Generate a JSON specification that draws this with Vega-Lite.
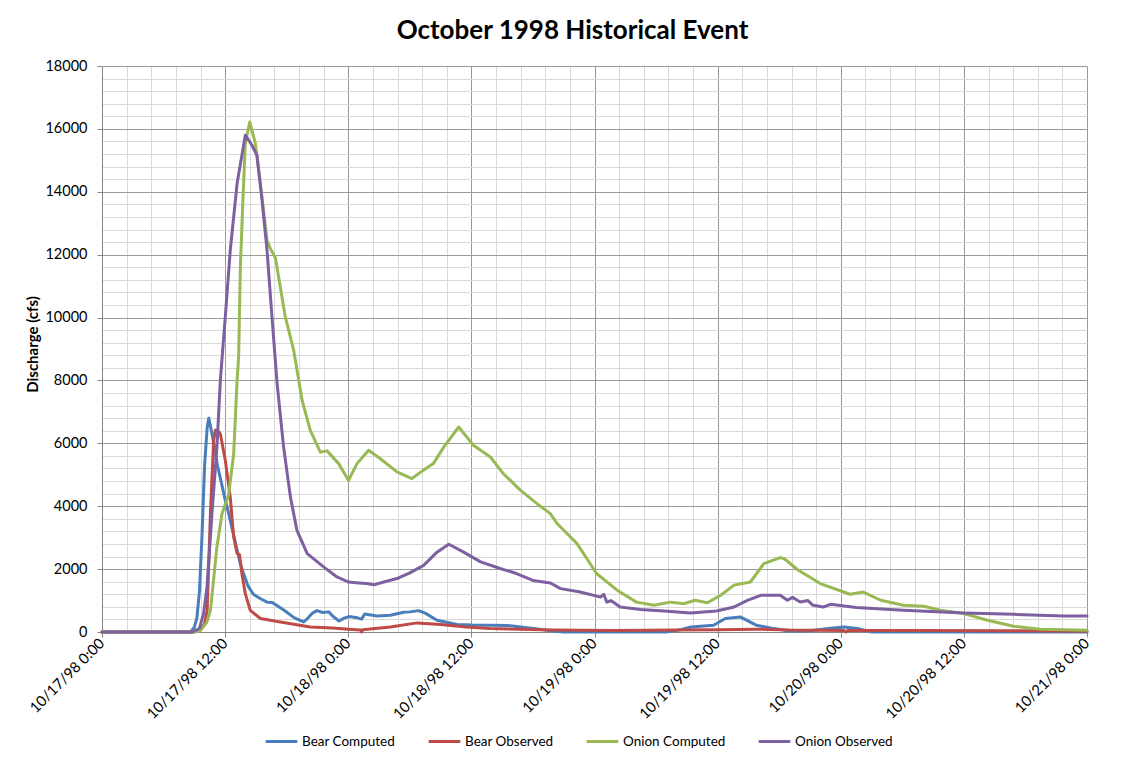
{
  "$schema": "https://vega.github.io/schema/vega-lite/v6.json",
  "autosize": {"type": "none"},
  "padding": {"left": 102, "top": 66, "right": 45, "bottom": 137},
  "width": 985,
  "height": 566,
  "background": "white",
  "config": {"view": {"stroke": null}},
  "title": {"text": "October 1998 Historical Event", "font": "Lato", "fontSize": 26, "fontWeight": "bold", "color": "#000000", "anchor": "middle", "baseline": "alphabetic", "offset": 21, "dx": -22, "dy": 28},
  "data": {"values": [
    {"series": "Bear Computed", "time": "1998-10-17T00:00", "cfs": 0},
    {"series": "Bear Computed", "time": "1998-10-17T08:30", "cfs": 0},
    {"series": "Bear Computed", "time": "1998-10-17T08:45", "cfs": 50},
    {"series": "Bear Computed", "time": "1998-10-17T09:00", "cfs": 150},
    {"series": "Bear Computed", "time": "1998-10-17T09:15", "cfs": 450},
    {"series": "Bear Computed", "time": "1998-10-17T09:30", "cfs": 1300},
    {"series": "Bear Computed", "time": "1998-10-17T09:45", "cfs": 3100},
    {"series": "Bear Computed", "time": "1998-10-17T10:00", "cfs": 5300},
    {"series": "Bear Computed", "time": "1998-10-17T10:15", "cfs": 6500},
    {"series": "Bear Computed", "time": "1998-10-17T10:24", "cfs": 6800},
    {"series": "Bear Computed", "time": "1998-10-17T10:36", "cfs": 6500},
    {"series": "Bear Computed", "time": "1998-10-17T10:54", "cfs": 6000},
    {"series": "Bear Computed", "time": "1998-10-17T11:15", "cfs": 5300},
    {"series": "Bear Computed", "time": "1998-10-17T11:36", "cfs": 4800},
    {"series": "Bear Computed", "time": "1998-10-17T12:00", "cfs": 4200},
    {"series": "Bear Computed", "time": "1998-10-17T12:15", "cfs": 3900},
    {"series": "Bear Computed", "time": "1998-10-17T12:45", "cfs": 3200},
    {"series": "Bear Computed", "time": "1998-10-17T13:06", "cfs": 2700},
    {"series": "Bear Computed", "time": "1998-10-17T13:30", "cfs": 2150},
    {"series": "Bear Computed", "time": "1998-10-17T13:45", "cfs": 1900},
    {"series": "Bear Computed", "time": "1998-10-17T14:15", "cfs": 1450},
    {"series": "Bear Computed", "time": "1998-10-17T14:45", "cfs": 1200},
    {"series": "Bear Computed", "time": "1998-10-17T15:30", "cfs": 1050},
    {"series": "Bear Computed", "time": "1998-10-17T16:06", "cfs": 950},
    {"series": "Bear Computed", "time": "1998-10-17T16:36", "cfs": 940},
    {"series": "Bear Computed", "time": "1998-10-17T17:45", "cfs": 690},
    {"series": "Bear Computed", "time": "1998-10-17T18:45", "cfs": 450},
    {"series": "Bear Computed", "time": "1998-10-17T19:39", "cfs": 320},
    {"series": "Bear Computed", "time": "1998-10-17T20:00", "cfs": 420},
    {"series": "Bear Computed", "time": "1998-10-17T20:30", "cfs": 600},
    {"series": "Bear Computed", "time": "1998-10-17T20:57", "cfs": 680},
    {"series": "Bear Computed", "time": "1998-10-17T21:30", "cfs": 620},
    {"series": "Bear Computed", "time": "1998-10-17T22:06", "cfs": 640},
    {"series": "Bear Computed", "time": "1998-10-17T22:30", "cfs": 500},
    {"series": "Bear Computed", "time": "1998-10-17T23:06", "cfs": 350},
    {"series": "Bear Computed", "time": "1998-10-17T23:36", "cfs": 440},
    {"series": "Bear Computed", "time": "1998-10-18T00:03", "cfs": 490},
    {"series": "Bear Computed", "time": "1998-10-18T00:54", "cfs": 450},
    {"series": "Bear Computed", "time": "1998-10-18T01:18", "cfs": 410},
    {"series": "Bear Computed", "time": "1998-10-18T01:36", "cfs": 570},
    {"series": "Bear Computed", "time": "1998-10-18T02:48", "cfs": 510},
    {"series": "Bear Computed", "time": "1998-10-18T04:06", "cfs": 530},
    {"series": "Bear Computed", "time": "1998-10-18T05:24", "cfs": 630},
    {"series": "Bear Computed", "time": "1998-10-18T06:00", "cfs": 640},
    {"series": "Bear Computed", "time": "1998-10-18T06:51", "cfs": 680},
    {"series": "Bear Computed", "time": "1998-10-18T07:30", "cfs": 600},
    {"series": "Bear Computed", "time": "1998-10-18T08:39", "cfs": 372},
    {"series": "Bear Computed", "time": "1998-10-18T10:36", "cfs": 240},
    {"series": "Bear Computed", "time": "1998-10-18T12:00", "cfs": 220},
    {"series": "Bear Computed", "time": "1998-10-18T13:51", "cfs": 213},
    {"series": "Bear Computed", "time": "1998-10-18T15:30", "cfs": 210},
    {"series": "Bear Computed", "time": "1998-10-18T17:00", "cfs": 150},
    {"series": "Bear Computed", "time": "1998-10-18T18:06", "cfs": 108},
    {"series": "Bear Computed", "time": "1998-10-18T19:42", "cfs": 40},
    {"series": "Bear Computed", "time": "1998-10-18T21:00", "cfs": 0},
    {"series": "Bear Computed", "time": "1998-10-19T07:00", "cfs": 0},
    {"series": "Bear Computed", "time": "1998-10-19T08:30", "cfs": 80},
    {"series": "Bear Computed", "time": "1998-10-19T09:24", "cfs": 160},
    {"series": "Bear Computed", "time": "1998-10-19T11:36", "cfs": 213},
    {"series": "Bear Computed", "time": "1998-10-19T12:45", "cfs": 430},
    {"series": "Bear Computed", "time": "1998-10-19T14:12", "cfs": 480},
    {"series": "Bear Computed", "time": "1998-10-19T15:48", "cfs": 213},
    {"series": "Bear Computed", "time": "1998-10-19T17:30", "cfs": 108},
    {"series": "Bear Computed", "time": "1998-10-19T19:00", "cfs": 30},
    {"series": "Bear Computed", "time": "1998-10-19T21:00", "cfs": 40},
    {"series": "Bear Computed", "time": "1998-10-19T23:00", "cfs": 120},
    {"series": "Bear Computed", "time": "1998-10-20T00:18", "cfs": 160},
    {"series": "Bear Computed", "time": "1998-10-20T01:48", "cfs": 100},
    {"series": "Bear Computed", "time": "1998-10-20T03:00", "cfs": 0},
    {"series": "Bear Computed", "time": "1998-10-21T00:00", "cfs": 0},

    {"series": "Bear Observed", "time": "1998-10-17T00:00", "cfs": 0},
    {"series": "Bear Observed", "time": "1998-10-17T09:00", "cfs": 0},
    {"series": "Bear Observed", "time": "1998-10-17T09:30", "cfs": 60},
    {"series": "Bear Observed", "time": "1998-10-17T10:00", "cfs": 250},
    {"series": "Bear Observed", "time": "1998-10-17T10:15", "cfs": 700},
    {"series": "Bear Observed", "time": "1998-10-17T10:34", "cfs": 3765},
    {"series": "Bear Observed", "time": "1998-10-17T10:53", "cfs": 6100},
    {"series": "Bear Observed", "time": "1998-10-17T11:03", "cfs": 6420},
    {"series": "Bear Observed", "time": "1998-10-17T11:18", "cfs": 6400},
    {"series": "Bear Observed", "time": "1998-10-17T11:32", "cfs": 6300},
    {"series": "Bear Observed", "time": "1998-10-17T12:01", "cfs": 5460},
    {"series": "Bear Observed", "time": "1998-10-17T12:30", "cfs": 4290},
    {"series": "Bear Observed", "time": "1998-10-17T12:50", "cfs": 3020},
    {"series": "Bear Observed", "time": "1998-10-17T13:10", "cfs": 2500},
    {"series": "Bear Observed", "time": "1998-10-17T13:24", "cfs": 2460},
    {"series": "Bear Observed", "time": "1998-10-17T13:38", "cfs": 1860},
    {"series": "Bear Observed", "time": "1998-10-17T13:58", "cfs": 1220},
    {"series": "Bear Observed", "time": "1998-10-17T14:27", "cfs": 690},
    {"series": "Bear Observed", "time": "1998-10-17T15:26", "cfs": 430},
    {"series": "Bear Observed", "time": "1998-10-17T17:23", "cfs": 320},
    {"series": "Bear Observed", "time": "1998-10-17T20:18", "cfs": 160},
    {"series": "Bear Observed", "time": "1998-10-17T22:30", "cfs": 130},
    {"series": "Bear Observed", "time": "1998-10-18T00:00", "cfs": 90},
    {"series": "Bear Observed", "time": "1998-10-18T01:12", "cfs": 60},
    {"series": "Bear Observed", "time": "1998-10-18T01:18", "cfs": 0},
    {"series": "Bear Observed", "time": "1998-10-18T01:24", "cfs": 70},
    {"series": "Bear Observed", "time": "1998-10-18T04:06", "cfs": 160},
    {"series": "Bear Observed", "time": "1998-10-18T06:42", "cfs": 290},
    {"series": "Bear Observed", "time": "1998-10-18T09:00", "cfs": 235},
    {"series": "Bear Observed", "time": "1998-10-18T11:30", "cfs": 160},
    {"series": "Bear Observed", "time": "1998-10-18T13:48", "cfs": 110},
    {"series": "Bear Observed", "time": "1998-10-18T20:00", "cfs": 60},
    {"series": "Bear Observed", "time": "1998-10-19T02:00", "cfs": 50},
    {"series": "Bear Observed", "time": "1998-10-19T08:00", "cfs": 60},
    {"series": "Bear Observed", "time": "1998-10-19T12:00", "cfs": 70},
    {"series": "Bear Observed", "time": "1998-10-19T16:00", "cfs": 90},
    {"series": "Bear Observed", "time": "1998-10-19T19:00", "cfs": 60},
    {"series": "Bear Observed", "time": "1998-10-20T00:18", "cfs": 50},
    {"series": "Bear Observed", "time": "1998-10-20T00:30", "cfs": 0},
    {"series": "Bear Observed", "time": "1998-10-20T00:42", "cfs": 50},
    {"series": "Bear Observed", "time": "1998-10-20T08:00", "cfs": 50},
    {"series": "Bear Observed", "time": "1998-10-20T16:00", "cfs": 40},
    {"series": "Bear Observed", "time": "1998-10-21T00:00", "cfs": 20},

    {"series": "Onion Computed", "time": "1998-10-17T00:00", "cfs": 0},
    {"series": "Onion Computed", "time": "1998-10-17T09:00", "cfs": 0},
    {"series": "Onion Computed", "time": "1998-10-17T09:36", "cfs": 50},
    {"series": "Onion Computed", "time": "1998-10-17T10:12", "cfs": 300},
    {"series": "Onion Computed", "time": "1998-10-17T10:34", "cfs": 690},
    {"series": "Onion Computed", "time": "1998-10-17T11:12", "cfs": 2700},
    {"series": "Onion Computed", "time": "1998-10-17T11:42", "cfs": 3770},
    {"series": "Onion Computed", "time": "1998-10-17T12:20", "cfs": 4350},
    {"series": "Onion Computed", "time": "1998-10-17T12:50", "cfs": 5670},
    {"series": "Onion Computed", "time": "1998-10-17T13:10", "cfs": 8000},
    {"series": "Onion Computed", "time": "1998-10-17T13:19", "cfs": 8750},
    {"series": "Onion Computed", "time": "1998-10-17T13:29", "cfs": 11600},
    {"series": "Onion Computed", "time": "1998-10-17T13:44", "cfs": 13730},
    {"series": "Onion Computed", "time": "1998-10-17T13:58", "cfs": 15530},
    {"series": "Onion Computed", "time": "1998-10-17T14:24", "cfs": 16220},
    {"series": "Onion Computed", "time": "1998-10-17T14:57", "cfs": 15530},
    {"series": "Onion Computed", "time": "1998-10-17T15:26", "cfs": 14260},
    {"series": "Onion Computed", "time": "1998-10-17T16:05", "cfs": 12460},
    {"series": "Onion Computed", "time": "1998-10-17T16:24", "cfs": 12200},
    {"series": "Onion Computed", "time": "1998-10-17T16:54", "cfs": 11900},
    {"series": "Onion Computed", "time": "1998-10-17T17:52", "cfs": 10020},
    {"series": "Onion Computed", "time": "1998-10-17T18:41", "cfs": 8960},
    {"series": "Onion Computed", "time": "1998-10-17T19:30", "cfs": 7370},
    {"series": "Onion Computed", "time": "1998-10-17T20:18", "cfs": 6410},
    {"series": "Onion Computed", "time": "1998-10-17T21:17", "cfs": 5720},
    {"series": "Onion Computed", "time": "1998-10-17T21:56", "cfs": 5760},
    {"series": "Onion Computed", "time": "1998-10-17T23:04", "cfs": 5355},
    {"series": "Onion Computed", "time": "1998-10-18T00:02", "cfs": 4820},
    {"series": "Onion Computed", "time": "1998-10-18T00:51", "cfs": 5355},
    {"series": "Onion Computed", "time": "1998-10-18T01:59", "cfs": 5780},
    {"series": "Onion Computed", "time": "1998-10-18T03:08", "cfs": 5510},
    {"series": "Onion Computed", "time": "1998-10-18T04:45", "cfs": 5090},
    {"series": "Onion Computed", "time": "1998-10-18T06:12", "cfs": 4880},
    {"series": "Onion Computed", "time": "1998-10-18T07:18", "cfs": 5140},
    {"series": "Onion Computed", "time": "1998-10-18T08:18", "cfs": 5355},
    {"series": "Onion Computed", "time": "1998-10-18T09:18", "cfs": 5880},
    {"series": "Onion Computed", "time": "1998-10-18T10:46", "cfs": 6520},
    {"series": "Onion Computed", "time": "1998-10-18T12:12", "cfs": 5940},
    {"series": "Onion Computed", "time": "1998-10-18T13:51", "cfs": 5565},
    {"series": "Onion Computed", "time": "1998-10-18T15:06", "cfs": 5040},
    {"series": "Onion Computed", "time": "1998-10-18T16:46", "cfs": 4510},
    {"series": "Onion Computed", "time": "1998-10-18T18:24", "cfs": 4080},
    {"series": "Onion Computed", "time": "1998-10-18T19:42", "cfs": 3765},
    {"series": "Onion Computed", "time": "1998-10-18T20:21", "cfs": 3450},
    {"series": "Onion Computed", "time": "1998-10-18T22:18", "cfs": 2810},
    {"series": "Onion Computed", "time": "1998-10-19T00:12", "cfs": 1860},
    {"series": "Onion Computed", "time": "1998-10-19T02:12", "cfs": 1330},
    {"series": "Onion Computed", "time": "1998-10-19T04:06", "cfs": 950},
    {"series": "Onion Computed", "time": "1998-10-19T05:48", "cfs": 850},
    {"series": "Onion Computed", "time": "1998-10-19T07:24", "cfs": 950},
    {"series": "Onion Computed", "time": "1998-10-19T08:42", "cfs": 900},
    {"series": "Onion Computed", "time": "1998-10-19T09:48", "cfs": 1010},
    {"series": "Onion Computed", "time": "1998-10-19T11:00", "cfs": 930},
    {"series": "Onion Computed", "time": "1998-10-19T12:18", "cfs": 1170},
    {"series": "Onion Computed", "time": "1998-10-19T13:36", "cfs": 1490},
    {"series": "Onion Computed", "time": "1998-10-19T15:12", "cfs": 1590},
    {"series": "Onion Computed", "time": "1998-10-19T16:30", "cfs": 2175},
    {"series": "Onion Computed", "time": "1998-10-19T18:06", "cfs": 2366},
    {"series": "Onion Computed", "time": "1998-10-19T18:30", "cfs": 2330},
    {"series": "Onion Computed", "time": "1998-10-19T19:48", "cfs": 1980},
    {"series": "Onion Computed", "time": "1998-10-19T22:00", "cfs": 1540},
    {"series": "Onion Computed", "time": "1998-10-20T00:54", "cfs": 1200},
    {"series": "Onion Computed", "time": "1998-10-20T02:12", "cfs": 1270},
    {"series": "Onion Computed", "time": "1998-10-20T03:54", "cfs": 1010},
    {"series": "Onion Computed", "time": "1998-10-20T06:06", "cfs": 850},
    {"series": "Onion Computed", "time": "1998-10-20T08:06", "cfs": 820},
    {"series": "Onion Computed", "time": "1998-10-20T09:42", "cfs": 690},
    {"series": "Onion Computed", "time": "1998-10-20T12:00", "cfs": 585},
    {"series": "Onion Computed", "time": "1998-10-20T14:18", "cfs": 372},
    {"series": "Onion Computed", "time": "1998-10-20T16:51", "cfs": 181},
    {"series": "Onion Computed", "time": "1998-10-20T19:27", "cfs": 86},
    {"series": "Onion Computed", "time": "1998-10-21T00:00", "cfs": 54},

    {"series": "Onion Observed", "time": "1998-10-17T00:00", "cfs": 0},
    {"series": "Onion Observed", "time": "1998-10-17T08:48", "cfs": 0},
    {"series": "Onion Observed", "time": "1998-10-17T09:30", "cfs": 120},
    {"series": "Onion Observed", "time": "1998-10-17T09:54", "cfs": 585},
    {"series": "Onion Observed", "time": "1998-10-17T10:14", "cfs": 1430},
    {"series": "Onion Observed", "time": "1998-10-17T10:43", "cfs": 3765},
    {"series": "Onion Observed", "time": "1998-10-17T11:12", "cfs": 5880},
    {"series": "Onion Observed", "time": "1998-10-17T11:32", "cfs": 8000},
    {"series": "Onion Observed", "time": "1998-10-17T12:01", "cfs": 10020},
    {"series": "Onion Observed", "time": "1998-10-17T12:30", "cfs": 12140},
    {"series": "Onion Observed", "time": "1998-10-17T13:10", "cfs": 14260},
    {"series": "Onion Observed", "time": "1998-10-17T13:58", "cfs": 15800},
    {"series": "Onion Observed", "time": "1998-10-17T14:37", "cfs": 15480},
    {"series": "Onion Observed", "time": "1998-10-17T15:06", "cfs": 15160},
    {"series": "Onion Observed", "time": "1998-10-17T15:36", "cfs": 13730},
    {"series": "Onion Observed", "time": "1998-10-17T16:05", "cfs": 12140},
    {"series": "Onion Observed", "time": "1998-10-17T16:34", "cfs": 10020},
    {"series": "Onion Observed", "time": "1998-10-17T17:04", "cfs": 7900},
    {"series": "Onion Observed", "time": "1998-10-17T17:42", "cfs": 5880},
    {"series": "Onion Observed", "time": "1998-10-17T18:22", "cfs": 4290},
    {"series": "Onion Observed", "time": "1998-10-17T19:00", "cfs": 3230},
    {"series": "Onion Observed", "time": "1998-10-17T20:00", "cfs": 2490},
    {"series": "Onion Observed", "time": "1998-10-17T21:36", "cfs": 2070},
    {"series": "Onion Observed", "time": "1998-10-17T22:54", "cfs": 1750},
    {"series": "Onion Observed", "time": "1998-10-18T00:02", "cfs": 1590},
    {"series": "Onion Observed", "time": "1998-10-18T01:00", "cfs": 1560},
    {"series": "Onion Observed", "time": "1998-10-18T01:48", "cfs": 1540},
    {"series": "Onion Observed", "time": "1998-10-18T02:30", "cfs": 1500},
    {"series": "Onion Observed", "time": "1998-10-18T03:27", "cfs": 1590},
    {"series": "Onion Observed", "time": "1998-10-18T04:45", "cfs": 1700},
    {"series": "Onion Observed", "time": "1998-10-18T06:00", "cfs": 1880},
    {"series": "Onion Observed", "time": "1998-10-18T07:21", "cfs": 2120},
    {"series": "Onion Observed", "time": "1998-10-18T08:39", "cfs": 2540},
    {"series": "Onion Observed", "time": "1998-10-18T09:48", "cfs": 2790},
    {"series": "Onion Observed", "time": "1998-10-18T11:15", "cfs": 2540},
    {"series": "Onion Observed", "time": "1998-10-18T12:54", "cfs": 2230},
    {"series": "Onion Observed", "time": "1998-10-18T14:48", "cfs": 2020},
    {"series": "Onion Observed", "time": "1998-10-18T16:24", "cfs": 1860},
    {"series": "Onion Observed", "time": "1998-10-18T18:00", "cfs": 1640},
    {"series": "Onion Observed", "time": "1998-10-18T19:42", "cfs": 1560},
    {"series": "Onion Observed", "time": "1998-10-18T20:42", "cfs": 1380},
    {"series": "Onion Observed", "time": "1998-10-18T22:36", "cfs": 1270},
    {"series": "Onion Observed", "time": "1998-10-19T00:36", "cfs": 1110},
    {"series": "Onion Observed", "time": "1998-10-19T00:54", "cfs": 1200},
    {"series": "Onion Observed", "time": "1998-10-19T01:12", "cfs": 950},
    {"series": "Onion Observed", "time": "1998-10-19T01:36", "cfs": 1000},
    {"series": "Onion Observed", "time": "1998-10-19T02:30", "cfs": 795},
    {"series": "Onion Observed", "time": "1998-10-19T04:30", "cfs": 712},
    {"series": "Onion Observed", "time": "1998-10-19T07:06", "cfs": 658},
    {"series": "Onion Observed", "time": "1998-10-19T09:21", "cfs": 604},
    {"series": "Onion Observed", "time": "1998-10-19T11:54", "cfs": 668},
    {"series": "Onion Observed", "time": "1998-10-19T13:36", "cfs": 795},
    {"series": "Onion Observed", "time": "1998-10-19T14:54", "cfs": 1008},
    {"series": "Onion Observed", "time": "1998-10-19T16:12", "cfs": 1167},
    {"series": "Onion Observed", "time": "1998-10-19T18:06", "cfs": 1167},
    {"series": "Onion Observed", "time": "1998-10-19T18:48", "cfs": 1008},
    {"series": "Onion Observed", "time": "1998-10-19T19:18", "cfs": 1100},
    {"series": "Onion Observed", "time": "1998-10-19T20:03", "cfs": 954},
    {"series": "Onion Observed", "time": "1998-10-19T20:48", "cfs": 1000},
    {"series": "Onion Observed", "time": "1998-10-19T21:18", "cfs": 850},
    {"series": "Onion Observed", "time": "1998-10-19T22:18", "cfs": 795},
    {"series": "Onion Observed", "time": "1998-10-19T23:00", "cfs": 880},
    {"series": "Onion Observed", "time": "1998-10-20T01:30", "cfs": 776},
    {"series": "Onion Observed", "time": "1998-10-20T06:06", "cfs": 690},
    {"series": "Onion Observed", "time": "1998-10-20T12:00", "cfs": 604},
    {"series": "Onion Observed", "time": "1998-10-20T16:51", "cfs": 563},
    {"series": "Onion Observed", "time": "1998-10-20T21:42", "cfs": 509},
    {"series": "Onion Observed", "time": "1998-10-21T00:00", "cfs": 509}
  ]},
  "mark": {"type": "line", "strokeWidth": 3, "strokeJoin": "round", "strokeCap": "round"},
  "encoding": {
    "x": {
      "field": "time", "type": "temporal",
      "scale": {"domain": [{"year": 1998, "month": 10, "date": 17}, {"year": 1998, "month": 10, "date": 21}]},
      "axis": {
        "title": null,
        "values": [
          {"year": 1998, "month": 10, "date": 17, "hours": 0, "minutes": 0},
          {"year": 1998, "month": 10, "date": 17, "hours": 2, "minutes": 24},
          {"year": 1998, "month": 10, "date": 17, "hours": 4, "minutes": 48},
          {"year": 1998, "month": 10, "date": 17, "hours": 7, "minutes": 12},
          {"year": 1998, "month": 10, "date": 17, "hours": 9, "minutes": 36},
          {"year": 1998, "month": 10, "date": 17, "hours": 12, "minutes": 0},
          {"year": 1998, "month": 10, "date": 17, "hours": 14, "minutes": 24},
          {"year": 1998, "month": 10, "date": 17, "hours": 16, "minutes": 48},
          {"year": 1998, "month": 10, "date": 17, "hours": 19, "minutes": 12},
          {"year": 1998, "month": 10, "date": 17, "hours": 21, "minutes": 36},
          {"year": 1998, "month": 10, "date": 18, "hours": 0, "minutes": 0},
          {"year": 1998, "month": 10, "date": 18, "hours": 2, "minutes": 24},
          {"year": 1998, "month": 10, "date": 18, "hours": 4, "minutes": 48},
          {"year": 1998, "month": 10, "date": 18, "hours": 7, "minutes": 12},
          {"year": 1998, "month": 10, "date": 18, "hours": 9, "minutes": 36},
          {"year": 1998, "month": 10, "date": 18, "hours": 12, "minutes": 0},
          {"year": 1998, "month": 10, "date": 18, "hours": 14, "minutes": 24},
          {"year": 1998, "month": 10, "date": 18, "hours": 16, "minutes": 48},
          {"year": 1998, "month": 10, "date": 18, "hours": 19, "minutes": 12},
          {"year": 1998, "month": 10, "date": 18, "hours": 21, "minutes": 36},
          {"year": 1998, "month": 10, "date": 19, "hours": 0, "minutes": 0},
          {"year": 1998, "month": 10, "date": 19, "hours": 2, "minutes": 24},
          {"year": 1998, "month": 10, "date": 19, "hours": 4, "minutes": 48},
          {"year": 1998, "month": 10, "date": 19, "hours": 7, "minutes": 12},
          {"year": 1998, "month": 10, "date": 19, "hours": 9, "minutes": 36},
          {"year": 1998, "month": 10, "date": 19, "hours": 12, "minutes": 0},
          {"year": 1998, "month": 10, "date": 19, "hours": 14, "minutes": 24},
          {"year": 1998, "month": 10, "date": 19, "hours": 16, "minutes": 48},
          {"year": 1998, "month": 10, "date": 19, "hours": 19, "minutes": 12},
          {"year": 1998, "month": 10, "date": 19, "hours": 21, "minutes": 36},
          {"year": 1998, "month": 10, "date": 20, "hours": 0, "minutes": 0},
          {"year": 1998, "month": 10, "date": 20, "hours": 2, "minutes": 24},
          {"year": 1998, "month": 10, "date": 20, "hours": 4, "minutes": 48},
          {"year": 1998, "month": 10, "date": 20, "hours": 7, "minutes": 12},
          {"year": 1998, "month": 10, "date": 20, "hours": 9, "minutes": 36},
          {"year": 1998, "month": 10, "date": 20, "hours": 12, "minutes": 0},
          {"year": 1998, "month": 10, "date": 20, "hours": 14, "minutes": 24},
          {"year": 1998, "month": 10, "date": 20, "hours": 16, "minutes": 48},
          {"year": 1998, "month": 10, "date": 20, "hours": 19, "minutes": 12},
          {"year": 1998, "month": 10, "date": 20, "hours": 21, "minutes": 36},
          {"year": 1998, "month": 10, "date": 21, "hours": 0, "minutes": 0}
        ],
        "format": "%-m/%-d/%y %-H:%M",
        "labelExpr": "(hours(datum.value) % 12 === 0 && minutes(datum.value) === 0) ? datum.label : ''",
        "labelOverlap": false,
        "labelBound": false,
        "labelFlush": false,
        "labelAngle": -45,
        "labelAlign": "right",
        "labelBaseline": "middle",
        "labelPadding": 4,
        "labelFont": "Lato",
        "labelFontSize": 14.8,
        "labelColor": "#000000",
        "grid": true,
        "gridColor": {"condition": {"test": "hours(datum.value) % 12 === 0 && minutes(datum.value) === 0", "value": "#9a9a9a"}, "value": "#d9d9d9"},
        "gridWidth": 1,
        "ticks": true,
        "tickSize": 5,
        "tickColor": "#868686",
        "tickOpacity": {"condition": {"test": "hours(datum.value) % 12 === 0 && minutes(datum.value) === 0", "value": 1}, "value": 0},
        "domainColor": "#868686",
        "domainWidth": 1
      }
    },
    "y": {
      "field": "cfs", "type": "quantitative",
      "scale": {"domain": [0, 18000], "nice": false},
      "axis": {
        "title": "Discharge (cfs)",
        "titleFont": "Lato",
        "titleFontSize": 15,
        "titleFontWeight": "bold",
        "titleColor": "#000000",
        "titleX": -70,
        "titleY": 278,
        "titleAngle": -90,
        "titleAlign": "center",
        "titleBaseline": "middle",
        "values": [0, 400, 800, 1200, 1600, 2000, 2400, 2800, 3200, 3600, 4000, 4400, 4800, 5200, 5600, 6000, 6400, 6800, 7200, 7600, 8000, 8400, 8800, 9200, 9600, 10000, 10400, 10800, 11200, 11600, 12000, 12400, 12800, 13200, 13600, 14000, 14400, 14800, 15200, 15600, 16000, 16400, 16800, 17200, 17600, 18000],
        "format": "d",
        "labelExpr": "datum.value % 2000 === 0 ? datum.label : ''",
        "labelOverlap": false,
        "labelBound": false,
        "labelFlush": false,
        "labelPadding": 10,
        "labelFont": "Lato",
        "labelFontSize": 14.5,
        "labelColor": "#000000",
        "grid": true,
        "gridColor": {"condition": {"test": "datum.value % 2000 === 0", "value": "#9a9a9a"}, "value": "#d9d9d9"},
        "gridWidth": 1,
        "tickSize": 5,
        "tickColor": "#868686",
        "tickOpacity": {"condition": {"test": "datum.value % 2000 === 0", "value": 1}, "value": 0},
        "domainColor": "#868686",
        "domainWidth": 1
      }
    },
    "color": {
      "field": "series", "type": "nominal",
      "scale": {"domain": ["Bear Computed", "Bear Observed", "Onion Computed", "Onion Observed"], "range": ["#4A7EBB", "#BE4B48", "#98B954", "#7D60A0"]},
      "legend": {
        "title": null,
        "orient": "none",
        "direction": "horizontal",
        "columns": 4,
        "legendX": 162,
        "legendY": 658,
        "symbolType": "stroke",
        "symbolSize": 1000,
        "symbolStrokeWidth": 3,
        "labelFont": "Lato",
        "labelFontSize": 13.5,
        "labelColor": "#000000",
        "labelOffset": 3,
        "columnPadding": 26,
        "labelLimit": 300
      }
    }
  }
}
